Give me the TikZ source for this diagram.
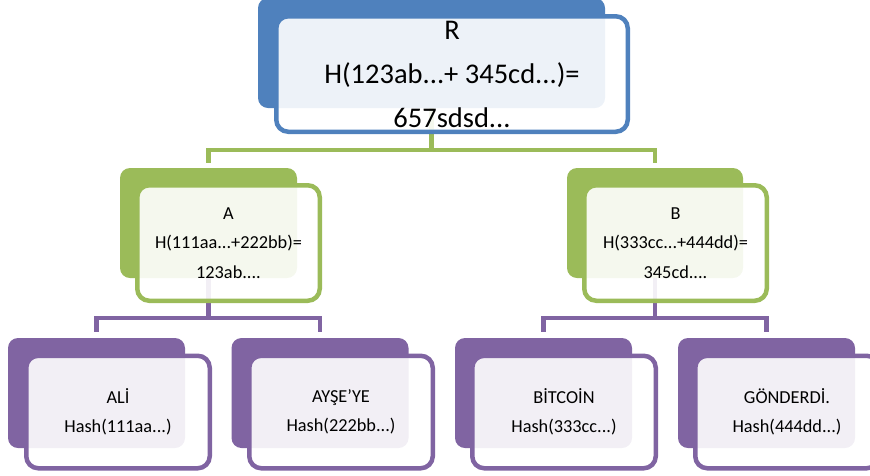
\documentclass[tikz,border=0pt]{standalone}
\usepackage{fontspec}
\setmainfont{Carlito}
\definecolor{blueacc}{HTML}{4F81BD}
\definecolor{greenacc}{HTML}{9BBB59}
\definecolor{purpleacc}{HTML}{8064A2}
\tikzset{
  back/.style={fill=#1, draw=none, rounded corners=10pt, inner sep=0pt},
  front/.style={fill=white, fill opacity=0.9, text opacity=1, draw=#1,
    line width=4.5pt, rounded corners=12pt, inner sep=0pt, align=center,
    text=black},
  conn/.style={draw=#1, line width=4.5pt},
  big/.style={font=\fontsize{28.5}{44}\selectfont},
  small/.style={font=\fontsize{18.3}{29.5}\selectfont},
}
\begin{document}
\begin{tikzpicture}[x=1pt,y=-1pt]
\useasboundingbox (0,0) rectangle (870,475);
\clip (0,0) rectangle (870,475);

% back panels
\node[back=blueacc, minimum width=347pt, minimum height=110pt] (Rd) at (431.5,53) {};
\node[back=greenacc, minimum width=177pt, minimum height=110pt] (Ad) at (208.5,223) {};
\node[back=greenacc, minimum width=176pt, minimum height=110pt] (Bd) at (655,223) {};
\node[back=purpleacc, minimum width=177pt, minimum height=110pt] (L1d) at (96.5,393) {};
\node[back=purpleacc, minimum width=177pt, minimum height=110pt] (L2d) at (320,393) {};
\node[back=purpleacc, minimum width=177pt, minimum height=110pt] (L3d) at (543.5,393) {};
\node[back=purpleacc, minimum width=177pt, minimum height=110pt] (L4d) at (766.5,393) {};

% connectors between levels
\draw[conn=greenacc, shorten >=5pt] (Rd.south) -- ++(0,42) -| (Ad.north);
\draw[conn=greenacc, shorten >=5pt] (Rd.south) -- ++(0,42) -| (Bd.north);
\draw[conn=purpleacc, shorten >=6pt] (Ad.south) -- ++(0,40) -| (L1d.north);
\draw[conn=purpleacc, shorten >=6pt] (Ad.south) -- ++(0,40) -| (L2d.north);
\draw[conn=purpleacc, shorten >=6pt] (Bd.south) -- ++(0,40) -| (L3d.north);
\draw[conn=purpleacc, shorten >=6pt] (Bd.south) -- ++(0,40) -| (L4d.north);

% front panels with text
\node[front=blueacc, big, minimum width=351.5pt, minimum height=115.5pt] (R) at (452,74)
  {R\\H(123ab...+ 345cd...)=\\657sdsd...};
\node[front=greenacc, small, minimum width=182.5pt, minimum height=115.5pt] (A) at (228.5,243)
  {A\\H(111aa...+222bb)=\\123ab....};
\node[front=greenacc, small, minimum width=182.5pt, minimum height=115.5pt] (B) at (675.5,243)
  {B\\H(333cc...+444dd)=\\345cd....};
\node[front=purpleacc, small, minimum width=183.5pt, minimum height=112.5pt] (L1) at (118,412)
  {ALİ\\Hash(111aa...)};
\node[front=purpleacc, small, minimum width=183.5pt, minimum height=112.5pt] (L2) at (341,412)
  {AYŞE'YE\\Hash(222bb...)};
\node[front=purpleacc, small, minimum width=183.5pt, minimum height=112.5pt] (L3) at (564,412)
  {BİTCOİN\\Hash(333cc...)};
\node[front=purpleacc, small, minimum width=183.5pt, minimum height=112.5pt] (L4) at (787,412)
  {GÖNDERDİ.\\Hash(444dd...)};
\end{tikzpicture}
\end{document}
